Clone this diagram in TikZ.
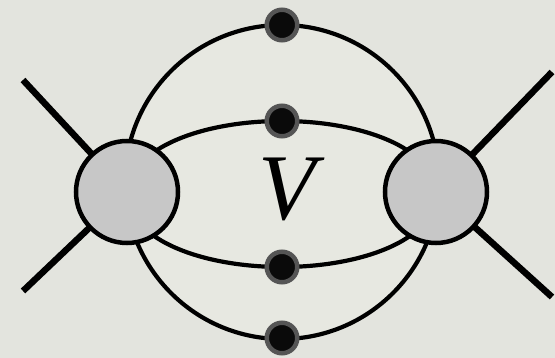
\documentclass[tikz,border=0pt]{standalone}
\usepackage{fontspec}
\setmainfont{Liberation Serif}
\definecolor{bgc}{HTML}{E3E4DE}
\definecolor{inc}{HTML}{E7E8E1}
\definecolor{blobc}{HTML}{C7C7C7}
\definecolor{ringc}{HTML}{555555}
\definecolor{dotc}{HTML}{0A0A0A}
\begin{document}
\begin{tikzpicture}[x=1pt,y=1pt,
  leg/.style={line width=6.5pt,black},
  prop/.style={line width=4.2pt,black},
  blob/.style={circle,draw=black,line width=4.5pt,fill=blobc,minimum size=102pt,inner sep=0pt},
  vdot/.style={circle,draw=ringc,line width=4.5pt,fill=dotc,minimum size=30.5pt,inner sep=0pt}]
\fill[bgc] (0,0) rectangle (555,-358);
\useasboundingbox (0,0) rectangle (555,-358);
% outer loop
\coordinate (cc) at (282,-182);
\draw[prop,fill=inc] (cc) circle (157);
% inner lines
\draw[prop] (132,-186) arc[start angle=180,end angle=0,x radius=150,y radius=65];
\draw[prop] (132,-202) arc[start angle=180,end angle=360,x radius=150,y radius=65];
% legs
\coordinate (lu) at (23,-80);
\coordinate (ld) at (23,-291);
\coordinate (ru) at (552,-72);
\coordinate (rd) at (552,-297);
\coordinate (lc) at (127,-192);
\coordinate (rc) at (436,-192);
\draw[leg] (lc) -- (lu);
\draw[leg] (lc) -- (ld);
\draw[leg] (rc) -- (ru);
\draw[leg] (rc) -- (rd);
% blobs
\node[blob] (L) at (lc) {};
\node[blob] (R) at (rc) {};
% dots
\node[vdot] (d1) at (282,-25) {};
\node[vdot] (d2) at (282,-121) {};
\node[vdot] (d3) at (282,-267) {};
\node[vdot] (d4) at (282,-338) {};
% label
\node[inner sep=0pt,font=\fontsize{94}{94}\selectfont\itshape] (V) at (287,-189) {V};
\end{tikzpicture}
\end{document}
